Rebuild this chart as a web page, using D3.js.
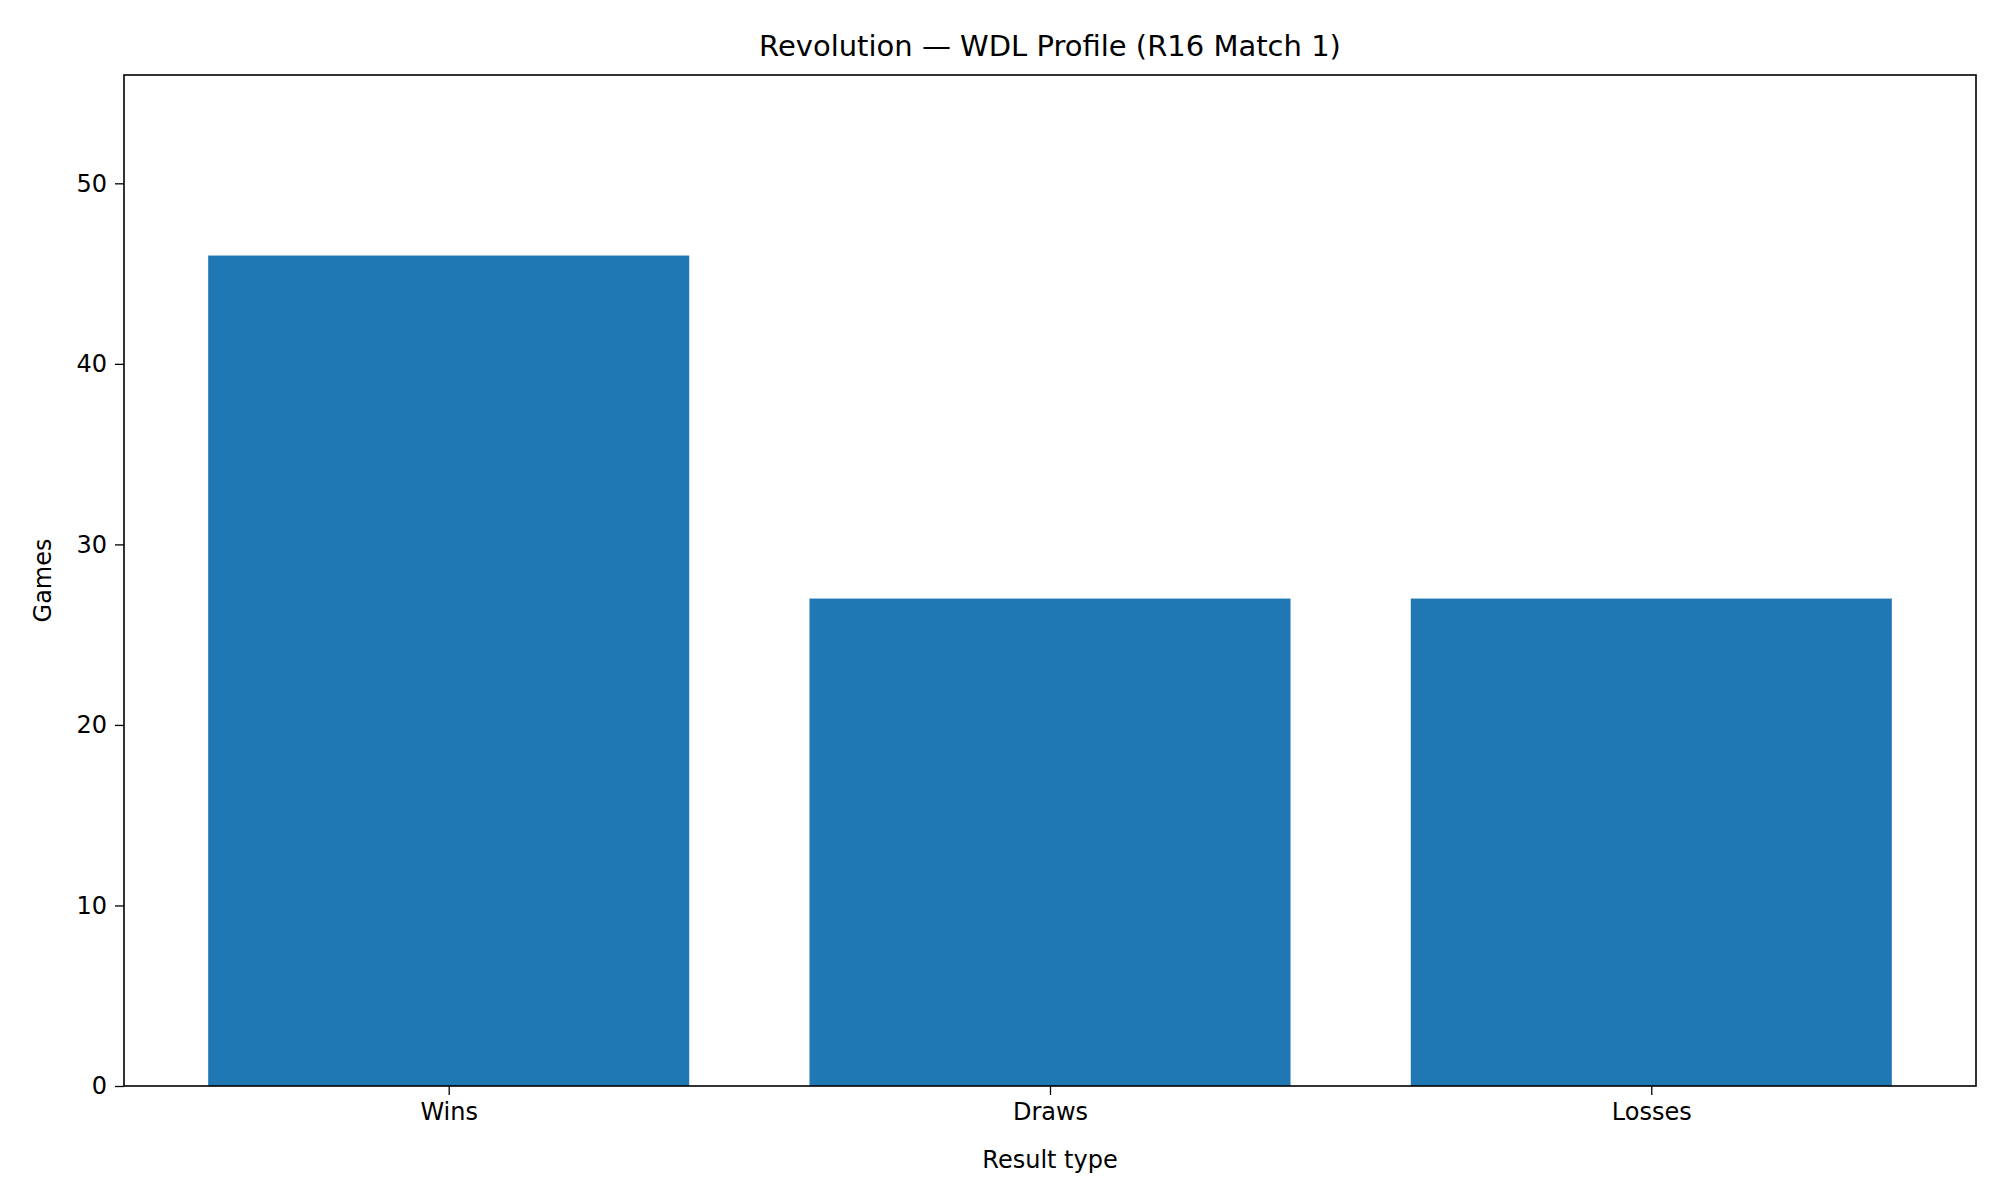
<!DOCTYPE html>
<html><head><meta charset="utf-8">
<script src="https://cdn.jsdelivr.net/npm/d3@7"></script>
<style>body{margin:0;background:#fff}</style>
</head><body><div id="chart"></div>
<script>
// data
var categories = ["Wins", "Draws", "Losses"];
var games = [46, 27, 27];
var yTicks = [0, 10, 20, 30, 40, 50];

var W = 2000, H = 1200;
var margin = {top: 75, right: 24, bottom: 114, left: 124},
  width = W - margin.left - margin.right,
  height = H - margin.top - margin.bottom;

var svg = d3.select("#chart").append("svg")
  .attr("width", W).attr("height", H)
  .style("font-family", "DejaVu Sans");
var g = svg.append("g")
  .attr("transform", "translate(" + margin.left + "," + margin.top + ")");

// matplotlib-like categorical x positions
var x = d3.scaleLinear().domain([-0.54, categories.length - 0.46]).range([0, width]);
var y = d3.scaleLinear().domain([0, 56]).range([height, 0]);
var barW = x(0.8) - x(0);

g.selectAll("rect.bar")
  .data(games)
  .enter().append("rect")
    .attr("class", "bar")
    .attr("x", function(d, i) { return x(i) - barW / 2; })
    .attr("y", function(d) { return y(d); })
    .attr("width", barW)
    .attr("height", function(d) { return height - y(d); })
    .style("fill", "#1f77b4");

// axes
var xAxis = g.append("g")
  .attr("transform", "translate(0," + height + ")")
  .call(d3.axisBottom(x).tickValues(d3.range(categories.length))
    .tickFormat(function(i) { return categories[i]; }).tickSize(9).tickPadding(8));
var yAxis = g.append("g")
  .call(d3.axisLeft(y).tickValues(yTicks).tickSize(9).tickPadding(8));
[xAxis, yAxis].forEach(function(a) {
  a.selectAll("text").style("font-size", "24px").style("fill", "#000").style("font-family", "DejaVu Sans");
  a.selectAll("line").style("stroke", "#000").style("stroke-width", 1.3);
  a.select(".domain").remove();
});

// frame
g.append("rect").attr("width", width).attr("height", height)
  .style("fill", "none").style("stroke", "#000").style("stroke-width", 1.6);

// labels
svg.append("text")
  .attr("x", margin.left + width / 2).attr("y", 56)
  .attr("text-anchor", "middle").style("font-size", "29px")
  .text("Revolution \u2014 WDL Profile (R16 Match 1)");
svg.append("text")
  .attr("x", margin.left + width / 2).attr("y", 1168)
  .attr("text-anchor", "middle").style("font-size", "24px")
  .text("Result type");
svg.append("text")
  .attr("transform", "translate(51," + (margin.top + height / 2) + ") rotate(-90)")
  .attr("text-anchor", "middle").style("font-size", "24px")
  .text("Games");
</script>
</body></html>
